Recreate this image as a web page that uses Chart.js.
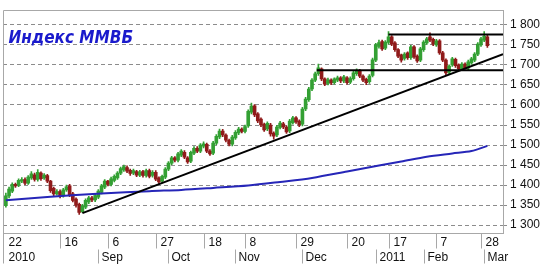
<!DOCTYPE html>
<html>
<head>
<meta charset="utf-8">
<script src="https://cdn.jsdelivr.net/npm/chart.js@4.4.1/dist/chart.umd.min.js"></script>
<style>
  html, body { margin: 0; padding: 0; background: #fff; }
  #wrap { width: 543px; height: 270px; position: relative; }
</style>
</head>
<body>
<div id="wrap"><canvas id="micex"></canvas></div>
<script>
const chartTitle = 'Индекс ММВБ'

// trading day index -> label (22 Jul 2010 .. 2 Mar 2011)
const dayTickIndex = [0, 17, 32, 47, 62, 75, 91, 107, 120, 135, 149]
const dayTickLabels = ['22', '16', '6', '27', '18', '8', '29', '20', '17', '7', '28']
const monthTickIndex = [0, 29, 51, 72, 93, 116, 131, 150]
const monthTickLabels = ['2010', 'Sep', 'Oct', 'Nov', 'Dec', '2011', 'Feb', 'Mar']

const yTicks = [1300, 1350, 1400, 1450, 1500, 1550, 1600, 1650, 1700, 1750, 1800]

const open = [
  1349, 1373, 1385, 1402, 1400, 1410, 1414, 1405, 1418, 1426,
  1414, 1430, 1418, 1424, 1410, 1392, 1378, 1384, 1373, 1388,
  1398, 1378, 1365, 1352, 1334, 1345, 1358, 1368, 1363, 1370,
  1382, 1395, 1410, 1402, 1412, 1418, 1430, 1438, 1444, 1437,
  1430, 1434, 1425, 1434, 1424, 1436, 1424, 1432, 1418, 1410,
  1420, 1440, 1455, 1468, 1462, 1475, 1482, 1468, 1460, 1480,
  1492, 1485, 1497, 1502, 1485, 1480, 1505, 1520, 1535, 1525,
  1512, 1502, 1518, 1530, 1540, 1534, 1548, 1582, 1598, 1578,
  1565, 1552, 1540, 1550, 1530, 1525, 1544, 1553, 1545, 1535,
  1556, 1568, 1560, 1552, 1590, 1613, 1640, 1662, 1678, 1690,
  1665, 1654, 1662, 1656, 1662, 1668, 1660, 1668, 1657, 1666,
  1678, 1686, 1672, 1664, 1658, 1674, 1712, 1746, 1758, 1742,
  1756, 1770, 1755, 1738, 1725, 1716, 1730, 1718, 1745, 1722,
  1712, 1738, 1755, 1770, 1764, 1750, 1760, 1730, 1712, 1682,
  1700, 1714, 1700, 1690, 1702, 1692, 1705, 1712, 1727, 1750,
  1762, 1770
]
const close = [
  1373, 1390, 1402, 1398, 1412, 1414, 1405, 1420, 1428, 1414,
  1432, 1416, 1425, 1410, 1386, 1378, 1384, 1373, 1388, 1396,
  1375, 1362, 1350, 1332, 1348, 1362, 1368, 1363, 1374, 1385,
  1398, 1410, 1402, 1416, 1422, 1430, 1441, 1446, 1435, 1429,
  1436, 1425, 1433, 1424, 1436, 1422, 1432, 1415, 1408, 1422,
  1440, 1455, 1468, 1462, 1478, 1485, 1470, 1458, 1482, 1492,
  1485, 1500, 1503, 1485, 1478, 1505, 1522, 1535, 1525, 1512,
  1502, 1520, 1532, 1540, 1534, 1546, 1584, 1597, 1575, 1560,
  1550, 1538, 1554, 1528, 1522, 1545, 1555, 1545, 1533, 1560,
  1568, 1558, 1550, 1590, 1615, 1640, 1662, 1678, 1693, 1665,
  1652, 1663, 1655, 1665, 1668, 1660, 1670, 1656, 1666, 1680,
  1686, 1672, 1662, 1656, 1672, 1713, 1750, 1756, 1740, 1757,
  1770, 1752, 1738, 1722, 1712, 1727, 1718, 1745, 1720, 1710,
  1740, 1757, 1765, 1762, 1752, 1760, 1730, 1712, 1680, 1697,
  1715, 1698, 1690, 1702, 1692, 1708, 1715, 1727, 1752, 1765,
  1772, 1748
]
const high = [
  1380, 1395, 1406, 1405, 1416, 1419, 1418, 1424, 1434, 1430,
  1439, 1433, 1429, 1427, 1412, 1395, 1389, 1388, 1392, 1400,
  1402, 1382, 1368, 1355, 1352, 1366, 1372, 1372, 1378, 1389,
  1402, 1414, 1412, 1420, 1426, 1434, 1445, 1450, 1448, 1440,
  1440, 1437, 1437, 1437, 1440, 1440, 1436, 1436, 1421, 1425,
  1444, 1459, 1472, 1471, 1482, 1489, 1486, 1471, 1485, 1496,
  1496, 1504, 1508, 1505, 1489, 1509, 1526, 1540, 1539, 1528,
  1515, 1524, 1536, 1544, 1543, 1550, 1588, 1605, 1601, 1581,
  1568, 1555, 1558, 1554, 1533, 1549, 1559, 1557, 1548, 1564,
  1572, 1571, 1563, 1594, 1619, 1644, 1666, 1682, 1702, 1693,
  1668, 1667, 1665, 1668, 1672, 1671, 1674, 1671, 1670, 1684,
  1690, 1689, 1675, 1667, 1676, 1717, 1754, 1762, 1762, 1761,
  1783, 1773, 1758, 1741, 1727, 1731, 1733, 1749, 1748, 1725,
  1744, 1761, 1769, 1780, 1767, 1764, 1763, 1734, 1715, 1700,
  1719, 1717, 1703, 1706, 1705, 1712, 1719, 1731, 1756, 1769,
  1783, 1774
]
const low = [
  1345, 1368, 1381, 1394, 1396, 1406, 1401, 1402, 1414, 1410,
  1410, 1412, 1414, 1406, 1382, 1372, 1375, 1368, 1370, 1384,
  1371, 1358, 1345, 1327, 1331, 1341, 1354, 1359, 1359, 1366,
  1378, 1391, 1398, 1398, 1408, 1414, 1426, 1434, 1431, 1424,
  1426, 1421, 1421, 1420, 1420, 1418, 1420, 1411, 1403, 1406,
  1416, 1436, 1451, 1458, 1458, 1471, 1466, 1454, 1456, 1476,
  1481, 1481, 1493, 1481, 1474, 1476, 1501, 1516, 1521, 1508,
  1498, 1498, 1514, 1526, 1530, 1530, 1544, 1578, 1571, 1556,
  1546, 1534, 1536, 1522, 1515, 1521, 1540, 1541, 1529, 1531,
  1552, 1554, 1546, 1548, 1586, 1609, 1636, 1658, 1674, 1661,
  1648, 1650, 1651, 1652, 1658, 1656, 1656, 1652, 1653, 1662,
  1674, 1668, 1658, 1651, 1654, 1670, 1708, 1742, 1736, 1738,
  1752, 1748, 1734, 1718, 1707, 1712, 1714, 1714, 1716, 1706,
  1708, 1734, 1751, 1758, 1748, 1746, 1726, 1708, 1673, 1678,
  1696, 1694, 1686, 1686, 1690, 1688, 1701, 1708, 1723, 1746,
  1758, 1744
]

// long moving average (blue), read at a few points
const maIndex = [0, 14, 30, 45, 55, 65, 76, 86, 96, 107, 117, 124, 132, 140, 146, 151]
const maValues = [1362, 1371, 1379, 1385, 1388, 1393, 1399, 1408, 1418, 1434, 1449, 1459, 1471, 1479, 1485, 1498]

// drawn lines: rising support, two horizontal levels
const trendIndex = [24, 155.9]
const trendValues = [1330, 1727]
const supportIndex = [97.5, 155.9]
const supportValues = [1687, 1687]
const resistIndex = [120, 155.9]
const resistValues = [1776, 1776]

const upColor = '#33a033'
const downColor = '#901a1a'
const xMin = -0.9
const xMax = 155.9

const pts = (xs, ys) => xs.map((x, i) => ({ x, y: ys[i] }))
const candleColors = close.map((c, i) => (c >= open[i] ? upColor : downColor))

const frameAndDates = {
  id: 'frameAndDates',
  afterDraw(chart) {
    const { ctx, chartArea: a, scales: { x } } = chart
    const L = Math.round(a.left) + 0.5
    const R = Math.round(a.right) + 0.5
    const T = Math.round(a.top) + 0.5
    const B = Math.round(a.bottom) + 0.5
    ctx.save()
    ctx.strokeStyle = '#a8a8a8'
    ctx.lineWidth = 1
    ctx.beginPath()
    ctx.moveTo(L, T); ctx.lineTo(R, T)
    ctx.moveTo(L, T); ctx.lineTo(L, B + 30)
    ctx.moveTo(L, B); ctx.lineTo(R, B)
    ctx.stroke()

    ctx.font = '12px "Liberation Sans", Arial, sans-serif'
    ctx.fillStyle = '#111'
    ctx.textBaseline = 'middle'
    ctx.textAlign = 'left'
    dayTickIndex.forEach((idx, k) => {
      const px = Math.round(x.getPixelForValue(idx)) + 0.5
      if (idx > 0) {
        ctx.beginPath(); ctx.moveTo(px, B); ctx.lineTo(px, B + 15); ctx.stroke()
      }
      ctx.fillText(dayTickLabels[k], idx > 0 ? px + 4 : L + 5, B + 9)
    })
    monthTickIndex.forEach((idx, k) => {
      const px = Math.round(x.getPixelForValue(idx)) + 0.5
      if (idx > 0) {
        ctx.beginPath(); ctx.moveTo(px, B + 16); ctx.lineTo(px, B + 30); ctx.stroke()
      }
      ctx.fillText(monthTickLabels[k], idx > 0 ? px + 3 : L + 5, B + 24.5)
    })

    ctx.font = 'italic bold 17px "DejaVu Sans Condensed", "DejaVu Sans", sans-serif'
    ctx.fillStyle = '#1a1acc'
    ctx.textBaseline = 'alphabetic'
    ctx.fillText(chartTitle, L + 5, T + 32)
    ctx.restore()
  }
}

new Chart(document.getElementById('micex'), {
  type: 'bar',
  data: {
    datasets: [
      {
        type: 'line', data: pts(trendIndex, trendValues), borderColor: '#000',
        borderWidth: 2, pointRadius: 0, order: 0
      },
      {
        type: 'line', data: pts(supportIndex, supportValues), borderColor: '#000',
        borderWidth: 2, pointRadius: 0, order: 0
      },
      {
        type: 'line', data: pts(resistIndex, resistValues), borderColor: '#000',
        borderWidth: 2, pointRadius: 0, order: 0
      },
      {
        type: 'line', data: pts(maIndex, maValues), borderColor: '#2626b8',
        borderWidth: 2, pointRadius: 0, tension: 0.3, order: 1
      },
      {
        data: open.map((o, i) => ({ x: i, y: [low[i], high[i]] })),
        backgroundColor: candleColors, barThickness: 1, grouped: false, order: 3
      },
      {
        data: open.map((o, i) => ({ x: i, y: [o, close[i]] })),
        backgroundColor: candleColors, barThickness: 3, grouped: false, order: 2
      }
    ]
  },
  options: {
    responsive: true,
    maintainAspectRatio: false,
    animation: false,
    layout: { padding: { left: 3, top: 5, right: 0, bottom: 37 } },
    plugins: { legend: { display: false }, tooltip: { enabled: false } },
    scales: {
      x: { type: 'linear', display: false, min: xMin, max: xMax, offset: false },
      y: {
        position: 'right',
        min: 1280.5,
        max: 1836.6,
        afterBuildTicks: axis => { axis.ticks = yTicks.map(v => ({ value: v })) },
        afterFit: axis => { axis.width = 40 },
        grid: { color: '#8c8c8c', tickColor: '#8c8c8c', tickLength: 4 },
        border: { display: true, color: '#a8a8a8', dash: [4, 3] },
        ticks: {
          padding: 3,
          color: '#111',
          font: { family: '"Liberation Sans", Arial, sans-serif', size: 12 },
          callback: v => String(v).replace(/(\d)(\d{3})$/, '$1 $2')
        }
      }
    }
  },
  plugins: [frameAndDates]
})
</script>
</body>
</html>
